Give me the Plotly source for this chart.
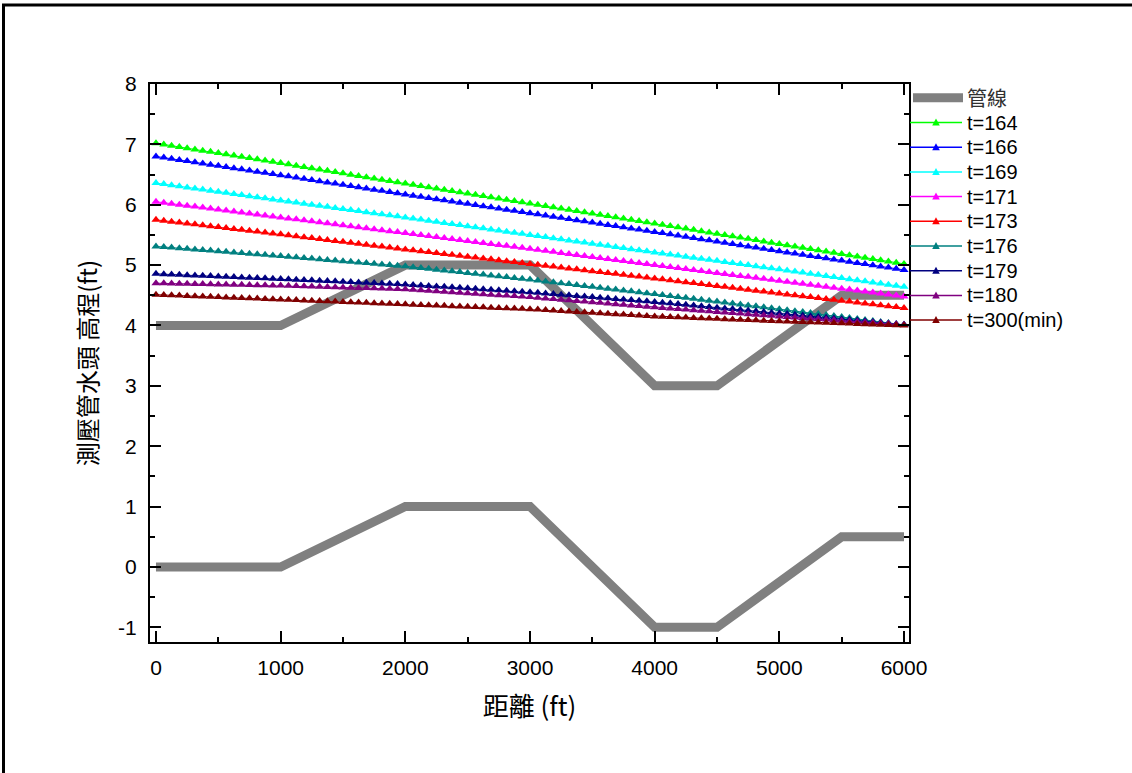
import numpy as np
import plotly.graph_objects as go

# ---------------- data ----------------
# pipe crown / invert profile (ft)
pipe_x = [0, 1000, 2000, 3000, 4000, 4500, 5500, 6000]
pipe_crown = [4, 4, 5, 5, 3, 3, 4.5, 4.5]
pipe_invert = [0, 0, 1, 1, -1, -1, 0.5, 0.5]

# piezometric head read at each 1000 ft node
node_x = [0, 1000, 2000, 3000, 4000, 5000, 6000]
head_t164 = [7.02, 6.69, 6.35, 6.02, 5.69, 5.35, 5.02]
head_t166 = [6.80, 6.49, 6.17, 5.86, 5.55, 5.23, 4.92]
head_t169 = [6.36, 6.07, 5.79, 5.50, 5.21, 4.93, 4.64]
head_t171 = [6.05, 5.79, 5.53, 5.27, 5.00, 4.74, 4.48]
head_t173 = [5.75, 5.51, 5.26, 5.02, 4.78, 4.53, 4.29]
head_t176 = [5.31, 5.15, 4.98, 4.76, 4.52, 4.27, 4.01]
head_t179 = [4.855, 4.77, 4.68, 4.55, 4.39, 4.20, 4.01]
head_t180 = [4.70, 4.66, 4.60, 4.47, 4.30, 4.15, 4.01]
head_t300 = [4.51, 4.43, 4.35, 4.27, 4.15, 4.07, 4.00]

pipe_name = "管線"
series_names = ["t=164", "t=166", "t=169", "t=171", "t=173",
                "t=176", "t=179", "t=180", "t=300(min)"]
series_values = [head_t164, head_t166, head_t169, head_t171, head_t173,
                 head_t176, head_t179, head_t180, head_t300]
series_colors = ["#00FF00", "#0000FF", "#00FFFF", "#FF00FF", "#FF0000",
                 "#008080", "#000080", "#800080", "#800000"]
pipe_color = "#808080"

# computational stations along the pipe (marker spacing in the picture)
n_stations = 97
station_x = np.linspace(node_x[0], node_x[-1], n_stations)

x_tick_vals = [0, 1000, 2000, 3000, 4000, 5000, 6000]
x_tick_text = ["0", "1000", "2000", "3000", "4000", "5000", "6000"]
y_tick_vals = [-1, 0, 1, 2, 3, 4, 5, 6, 7, 8]
y_tick_text = ["-1", "0", "1", "2", "3", "4", "5", "6", "7", "8"]

LATIN = "Liberation Sans, Arial, Noto Sans CJK TC, sans-serif"
CJK = "Noto Sans CJK TC, Liberation Sans, sans-serif"

fig = go.Figure()

# pipe (crown + invert in one trace)
fig.add_trace(go.Scatter(
    x=pipe_x + [None] + pipe_x,
    y=pipe_crown + [None] + pipe_invert,
    mode="lines", name=pipe_name,
    line=dict(color=pipe_color, width=9),
    connectgaps=False,
))

for name, vals, col in zip(series_names, series_values, series_colors):
    y_st = np.interp(station_x, node_x, vals)
    fig.add_trace(go.Scatter(
        x=station_x, y=y_st, mode="lines+markers", name=name,
        line=dict(color=col, width=1),
        marker=dict(symbol="triangle-up", size=8, color=col,
                    line=dict(width=0)),
    ))

W, H = 1132, 773
L, R, T, B = 150, 909, 84, 642
plot_w, plot_h = R - L, B - T


def paper_x(px):
    return (px - L) / plot_w


def paper_y(py):
    return (B - py) / plot_h


axis_common = dict(
    showline=True, linecolor="black", linewidth=2, mirror="allticks",
    ticks="inside", tickcolor="black", tickwidth=2, ticklen=11,
    showgrid=False, zeroline=False,
    tickfont=dict(family=LATIN, size=21, color="black"),
)

fig.update_xaxes(
    range=[-48, 6040], tickmode="array", tickvals=x_tick_vals, ticktext=x_tick_text,
    ticklabelstandoff=6,
    minor=dict(ticks="inside", ticklen=5, tickwidth=2, tickcolor="black",
               dtick=500, tick0=0, showgrid=False),
    title=dict(text="距離 (ft)", font=dict(family=CJK, size=26, color="black"),
               standoff=20),
    **axis_common,
)
fig.update_yaxes(
    range=[-1.2435, 8], tickmode="array", tickvals=y_tick_vals, ticktext=y_tick_text,
    ticklabelstandoff=7,
    minor=dict(ticks="inside", ticklen=5, tickwidth=2, tickcolor="black",
               dtick=0.5, tick0=0, showgrid=False),
    title=dict(text="測壓管水頭 高程(ft)", font=dict(family=CJK, size=24, color="black"),
               standoff=14),
    **axis_common,
)

# outer page frame
fig.add_shape(type="rect", xref="paper", yref="paper",
              x0=paper_x(3.5), x1=paper_x(1145), y0=paper_y(800), y1=paper_y(5),
              line=dict(color="black", width=3), fillcolor="rgba(0,0,0,0)",
              layer="below")

# ---- legend (drawn at the right of the frame, Origin style) ----
leg_names = [pipe_name] + series_names
leg_colors = [pipe_color] + series_colors
row0, row_step = 97.8, 24.7
line_x0, line_x1, text_x = 910, 962, 965
for i, (nm, col) in enumerate(zip(leg_names, leg_colors)):
    yy = row0 + i * row_step
    if i == 0:
        fig.add_shape(type="line", xref="paper", yref="paper",
                      x0=paper_x(line_x0 + 3), x1=paper_x(line_x1 + 1),
                      y0=paper_y(yy), y1=paper_y(yy),
                      line=dict(color=col, width=9))
        fnt = dict(family=CJK, size=20, color="#303030")
    else:
        fig.add_shape(type="line", xref="paper", yref="paper",
                      x0=paper_x(line_x0), x1=paper_x(line_x1),
                      y0=paper_y(yy), y1=paper_y(yy),
                      line=dict(color=col, width=1.5))
        cx = (line_x0 + line_x1) / 2
        tri = "M {:.5f},{:.5f} L {:.5f},{:.5f} L {:.5f},{:.5f} Z".format(
            paper_x(cx - 3.8), paper_y(yy + 3), paper_x(cx + 3.8), paper_y(yy + 3),
            paper_x(cx), paper_y(yy - 4))
        fig.add_shape(type="path", xref="paper", yref="paper", path=tri,
                      fillcolor=col, line=dict(width=0))
        fnt = dict(family=LATIN, size=20, color="black")
    fig.add_annotation(x=paper_x(text_x), y=paper_y(yy), xref="paper", yref="paper",
                       text=nm, showarrow=False, xanchor="left", yanchor="middle",
                       font=fnt)

fig.update_layout(
    width=W, height=H,
    margin=dict(l=L, r=W - R, t=T, b=H - B, pad=0),
    paper_bgcolor="white", plot_bgcolor="white",
    font=dict(family=LATIN, color="black"),
    showlegend=False,
)

fig.write_html("out.html",
               config={"displayModeBar": False},
               post_script="document.body.style.margin='0';document.body.style.overflow='hidden';")
